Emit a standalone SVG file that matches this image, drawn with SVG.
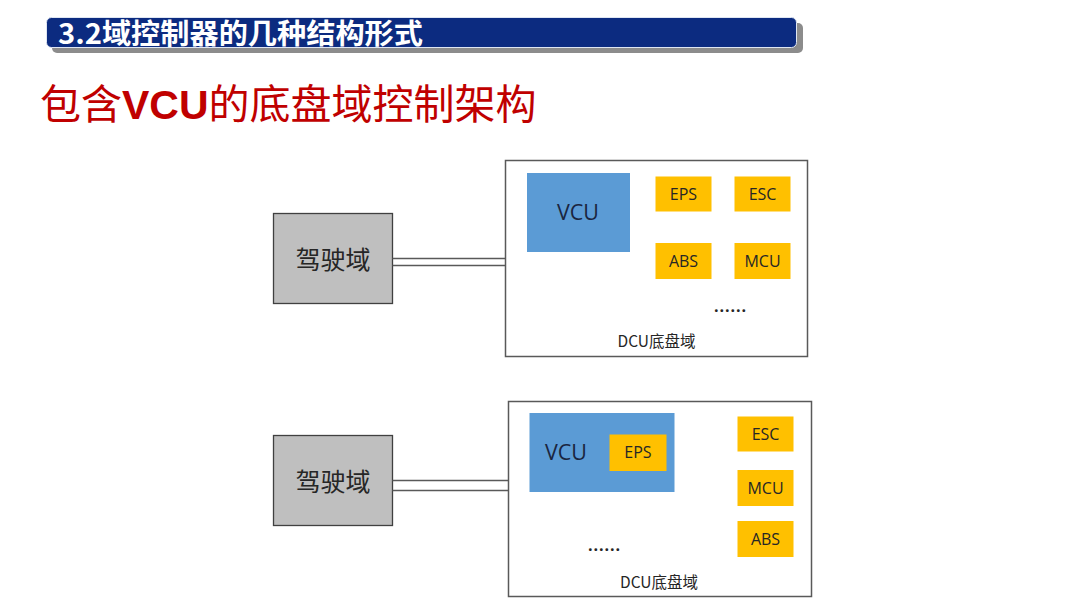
<svg xmlns="http://www.w3.org/2000/svg" width="1080" height="607" viewBox="0 0 1080 607">
<style>
.lat{font-family:"Open Sans","Noto Sans","Noto Sans CJK SC",sans-serif;}
.cjk{font-family:"Noto Sans CJK SC","Noto Sans",sans-serif;}
.drv{fill:#bfbfbf;stroke:#404040;stroke-width:1.3;}
.dcu{fill:#ffffff;stroke:#595959;stroke-width:1.5;}
.vcu{fill:#5b9bd5;}
.ecu{fill:#ffc000;}
.lbl{fill:#262626;text-anchor:middle;dominant-baseline:central;}
.vlbl{fill:#1a2540;text-anchor:middle;dominant-baseline:central;}
.dots{fill:#262626;text-anchor:middle;font-weight:bold;}
.bus{stroke:#595959;stroke-width:1.3;fill:none;}
</style>
<rect x="0" y="0" width="1080" height="607" fill="#ffffff"/>

<g id="header">
  <rect x="52" y="23" width="751" height="30" rx="5" fill="#8c8c8c"/>
  <rect x="46.5" y="17.5" width="750" height="30" rx="5" fill="#0c2b80" stroke="#dfe6f2" stroke-width="1"/>
  <text x="58" y="43.5" font-size="28" font-weight="bold" fill="#ffffff" class="cjk" textLength="365" lengthAdjust="spacingAndGlyphs">3.2域控制器的几种结构形式</text>
</g>

<g id="title">
  <text x="40" y="119" font-size="41" fill="#c00000" class="cjk">包含<tspan font-family="'Liberation Sans',Arial,sans-serif" font-weight="bold">VCU</tspan>的底盘域控制架构</text>
</g>

<!-- Top architecture -->
<g id="top-driving">
  <rect class="drv" x="273.5" y="213.5" width="119" height="90"/>
  <text class="cjk lbl" x="333" y="258" font-size="25">驾驶域</text>
</g>
<g id="top-dcu">
  <rect class="dcu" x="505.5" y="160.5" width="302" height="196"/>
  <text class="cjk lbl" x="656.5" y="339.5" font-size="15.5">DCU底盘域</text>
  <text class="lat dots" x="730" y="312" font-size="16" textLength="32" lengthAdjust="spacing">......</text>
</g>
<g id="top-vcu">
  <rect class="vcu" x="527" y="173" width="103" height="79"/>
  <text class="lat vlbl" x="578" y="211.5" font-size="21.5">VCU</text>
</g>
<g id="top-eps">
  <rect class="ecu" x="655.5" y="176.5" width="56" height="35"/>
  <text class="lat lbl" x="683.5" y="193.5" font-size="16">EPS</text>
</g>
<g id="top-esc">
  <rect class="ecu" x="734.5" y="176.5" width="56" height="35"/>
  <text class="lat lbl" x="762.5" y="193.5" font-size="16">ESC</text>
</g>
<g id="top-abs">
  <rect class="ecu" x="655.5" y="243" width="56" height="36"/>
  <text class="lat lbl" x="683.5" y="260.5" font-size="16">ABS</text>
</g>
<g id="top-mcu">
  <rect class="ecu" x="734.5" y="243" width="56" height="36"/>
  <text class="lat lbl" x="762.5" y="260.5" font-size="16">MCU</text>
</g>

<!-- Bottom architecture -->
<g id="bottom-driving">
  <rect class="drv" x="273.5" y="435.5" width="119" height="90"/>
  <text class="cjk lbl" x="333" y="480" font-size="25">驾驶域</text>
</g>
<g id="bottom-dcu">
  <rect class="dcu" x="508.5" y="401.5" width="303" height="195"/>
  <text class="cjk lbl" x="659" y="580.5" font-size="15.5">DCU底盘域</text>
  <text class="lat dots" x="604" y="551" font-size="16" textLength="32" lengthAdjust="spacing">......</text>
</g>
<g id="bottom-vcu">
  <rect class="vcu" x="529.5" y="413" width="145" height="79"/>
  <text class="lat vlbl" x="566" y="451.5" font-size="21.5">VCU</text>
</g>
<g id="bottom-eps">
  <rect class="ecu" x="609.5" y="434.5" width="57" height="36.5"/>
  <text class="lat lbl" x="638" y="452" font-size="16">EPS</text>
</g>
<g id="bottom-esc">
  <rect class="ecu" x="737.5" y="416.5" width="56" height="35"/>
  <text class="lat lbl" x="765.5" y="433.5" font-size="16">ESC</text>
</g>
<g id="bottom-mcu">
  <rect class="ecu" x="737.5" y="470" width="56" height="36"/>
  <text class="lat lbl" x="765.5" y="487.5" font-size="16">MCU</text>
</g>
<g id="bottom-abs">
  <rect class="ecu" x="737.5" y="521" width="56" height="36"/>
  <text class="lat lbl" x="765.5" y="538.5" font-size="16">ABS</text>
</g>

<g id="connectors">
  <line class="bus" x1="392.5" y1="258.5" x2="505.5" y2="258.5"/>
  <line class="bus" x1="392.5" y1="265.5" x2="505.5" y2="265.5"/>
  <line class="bus" x1="392.5" y1="480.5" x2="508.5" y2="480.5"/>
  <line class="bus" x1="392.5" y1="490.5" x2="508.5" y2="490.5"/>
</g>
</svg>
